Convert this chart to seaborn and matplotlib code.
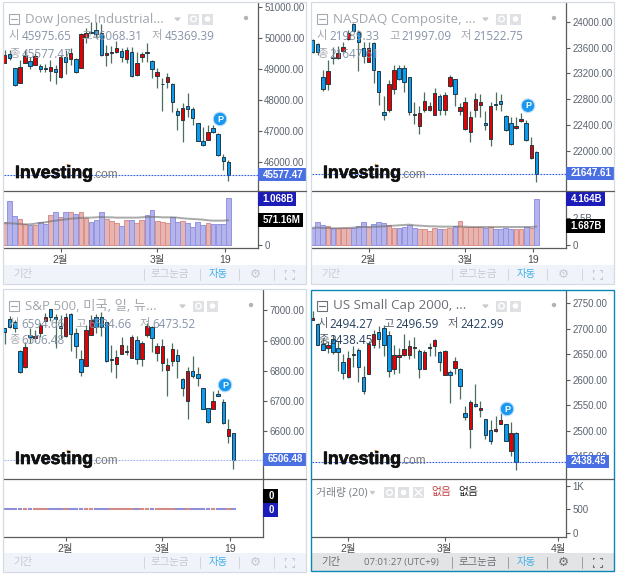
import numpy as np
import pandas as pd
import matplotlib
matplotlib.use("Agg")
import matplotlib.pyplot as plt
import matplotlib.patheffects as pe
from matplotlib.patches import Rectangle, Circle
import seaborn as sns

# ==========================
# DATA
# ==========================
dow_open = [49210,49490,49020,48550,49210,49270,49140,49110,49040,48930,49000,48750,49380,49320,49320,49050,50050,50190,50260,50160,49460,49530,49560,49600,49320,49540,48820,49380,49540,49270,48790,48500,48590,48530,47640,47360,47790,47700,47240,46680,46710,47100,46910,46140,45975.65]
dow_high = [49620,49620,49030,49290,49620,49400,49510,49160,49160,49290,49130,49460,49620,49670,49350,50160,50320,50540,50510,50460,49780,49750,49920,49670,49730,49730,49560,49560,49830,49290,49020,48700,48860,48540,47730,47890,48240,47780,47240,47130,47180,47190,46920,46250,46068.31]
dow_low = [49190,49290,48460,48540,49190,48990,49130,48890,48920,48610,48500,48700,48840,49130,48860,49020,49860,50160,50000,49420,49110,49210,49510,49240,49190,48750,48780,49220,49240,48700,48400,47640,48380,47600,47030,46650,47460,47190,46660,46520,46700,46920,46190,45730,45369.39]
dow_close = [49460,49360,48480,49080,49420,49100,49430,49010,49010,49080,48920,49400,49240,49510,48890,50120,50160,50170,50140,49460,49520,49550,49670,49390,49620,48790,49190,49490,49510,48990,48920,48510,48740,47940,47500,47750,47700,47430,46680,46540,46960,46970,46220,46030,45577.47]
dow_volume = [540,1010,676,600,479,464,464,524,486,684,768,638,752,752,707,768,631,540,578,768,600,555,509,441,578,578,509,578,692,806,555,540,517,638,540,555,509,418,540,464,517,486,486,486,1068]
dow_vol_ma = [502,502,494,486,479,479,494,509,524,547,562,578,593,608,616,623,631,631,638,646,638,638,631,631,631,631,631,638,646,646,646,638,638,638,631,616,608,600,593,585,570,562,562,562,571]

nq_open = [23710,23650,23140,23030,23450,23440,23540,23730,23970,23840,23590,23380,23670,23230,22610,22630,22960,23280,23290,23140,22570,22390,22630,22640,22560,22850,22640,23010,23110,22620,22340,22300,22630,22710,22430,22190,22730,22780,22540,22440,22350,22460,22440,21890,21989.33]
nq_high = [23730,23670,23250,23400,23610,23620,23690,23870,23980,23870,23690,23690,23680,23240,22850,23100,23330,23330,23330,23150,22760,22700,22910,22760,22970,22880,22910,23180,23120,22740,22830,22620,22890,22880,22620,22760,22910,22880,22560,22530,22530,22580,22480,22210,21997.09]
nq_low = [23510,23480,22930,22940,23350,23430,23520,23720,23850,23240,23360,23370,23050,22710,22480,22610,22880,23100,22920,22560,22410,22270,22610,22620,22550,22560,22560,22990,22700,22550,22330,22140,22530,22530,22330,22080,22630,22620,22310,22100,22340,22450,22150,21880,21522.75]
nq_close = [23530,23530,22960,23240,23440,23510,23610,23830,23860,23690,23470,23600,23260,22910,22550,23040,23250,23110,23070,22610,22560,22580,22770,22690,22890,22630,22870,23150,22880,22680,22750,22530,22810,22750,22400,22700,22710,22720,22320,22110,22390,22490,22170,22090,21647.61]
nq_volume = [1.59,2.07,1.83,1.71,1.59,1.53,1.53,1.53,1.53,1.71,2.07,1.62,1.89,2.07,1.98,1.83,1.59,1.53,1.65,1.83,1.53,1.44,1.44,1.26,1.56,1.47,1.44,1.53,1.71,2.19,1.62,1.68,1.68,1.68,1.59,1.62,1.47,1.47,1.53,1.47,1.47,1.47,1.62,1.53,4.164]
nq_vol_ma = [1.59,1.59,1.56,1.56,1.53,1.53,1.56,1.56,1.59,1.62,1.65,1.65,1.68,1.68,1.71,1.74,1.77,1.80,1.83,1.86,1.80,1.77,1.74,1.71,1.71,1.68,1.68,1.68,1.68,1.68,1.68,1.65,1.65,1.65,1.65,1.65,1.65,1.65,1.65,1.65,1.65,1.65,1.65,1.65,1.687]

sp_open = [6940,6970,6963,6867,6812,6917,6909,6924,6966,7004,6979,6948,6916,6987,6926,6838,6817,6920,6977,6979,6960,6836,6821,6857,6863,6844,6903,6838,6917,6945,6858,6827,6802,6832,6852,6772,6700,6798,6791,6742,6676,6675,6722,6698,6585,6594.66]
sp_high = [6943,6981,6968,6868,6896,6940,6935,6959,6990,7005,6988,6985,6990,6990,6940,6869,6951,6985,6988,6996,6963,6885,6869,6911,6885,6918,6916,6900,6957,6948,6891,6904,6841,6891,6871,6777,6814,6849,6814,6744,6676,6733,6737,6706,6640,6594.66]
sp_low = [6888,6942,6927,6792,6808,6891,6896,6913,6960,6966,6874,6907,6913,6866,6844,6783,6816,6917,6924,6915,6828,6797,6777,6856,6852,6841,6823,6816,6913,6863,6832,6799,6715,6816,6775,6717,6640,6777,6750,6673,6626,6673,6715,6624,6562,6473.52]
sp_close = [6927,6944,6943,6797,6878,6913,6916,6950,6979,6979,6970,6940,6979,6921,6883,6797,6934,6967,6944,6946,6834,6838,6845,6884,6866,6911,6838,6891,6947,6910,6881,6883,6818,6872,6832,6742,6798,6782,6776,6675,6632,6700,6717,6626,6607,6506.48]
sp_volume = [0] * 46
sp_vol_ma = [0] * 46

rut_open = [2718,2710,2671,2662,2681,2662,2635,2605,2648,2658,2606,2612,2668,2693,2701,2687,2622,2645,2649,2649,2662,2656,2622,2662,2667,2654,2610,2615,2623,2621,2535,2504,2552,2541,2522,2502,2500,2513,2512,2460,2494.27]
rut_high = [2736,2712,2682,2676,2688,2676,2650,2656,2666,2663,2626,2676,2697,2705,2708,2695,2669,2663,2689,2679,2684,2660,2658,2673,2681,2656,2658,2619,2645,2623,2549,2560,2591,2559,2523,2521,2528,2536,2513,2516,2496.59]
rut_low = [2717,2668,2658,2653,2650,2617,2601,2604,2625,2595,2572,2611,2663,2663,2647,2606,2611,2613,2647,2640,2643,2603,2621,2647,2647,2617,2609,2554,2611,2563,2520,2466,2546,2526,2484,2474,2498,2512,2480,2450,2422.99]
rut_close = [2721,2669,2659,2668,2655,2655,2614,2642,2650,2625,2578,2671,2690,2681,2669,2617,2648,2648,2660,2666,2665,2622,2654,2665,2678,2634,2656,2610,2636,2587,2526,2556,2548,2544,2491,2480,2504,2521,2480,2496,2438.45]

dow_x_ticks = [11, 30, 43.4]
nq_x_ticks = [11, 30, 43.4]
sp_x_ticks = [12, 31, 44.3]
rut_x_ticks = [7, 26, 48.3]
x_labels_19 = ["2월", "3월", "19"]
x_labels_apr = ["2월", "3월", "4월"]

RED = "#e60000"
BLUE = "#0a9bf2"
WICK = "#4b6f5c"
W, H = 619, 574

# ==========================
# THEME
# ==========================
sns.set_theme(style="white")
plt.rcParams["font.family"] = ["Liberation Sans", "Noto Sans CJK KR", "DejaVu Sans"]
UI_FONT = ["Open Sans", "Noto Sans CJK KR", "DejaVu Sans"]

fig = plt.figure(figsize=(W / 100, H / 100), dpi=100, facecolor="white")


def px_axes(x0, y0, x1, y1):
    return fig.add_axes([x0 / W, 1 - y1 / H, (x1 - x0) / W, (y1 - y0) / H])


def style_spines(ax):
    for s in ["left", "top"]:
        ax.spines[s].set_visible(False)
    for s in ["right", "bottom"]:
        ax.spines[s].set_color("#5a5a5a")
        ax.spines[s].set_linewidth(0.9)
    ax.yaxis.tick_right()
    ax.patch.set_alpha(0)


def draw_candles(ax, opens, highs, lows, closes):
    df = pd.DataFrame({"o": opens, "h": highs, "l": lows, "c": closes})
    df["i"] = np.arange(len(df))
    ax.vlines(df["i"], df["l"], df["h"], color=WICK, lw=0.9, zorder=2)
    up = df["c"] >= df["o"]
    bottoms = df[["o", "c"]].min(axis=1)
    heights = (df["c"] - df["o"]).abs()
    ax.bar(df["i"], heights, bottom=bottoms, width=0.68,
           color=[RED if u else BLUE for u in up],
           edgecolor="#223a44", linewidth=0.7, zorder=3)
    return up


def draw_volume(ax, volume, ma, up, ma_alpha, bar_lw):
    df = pd.DataFrame({"i": np.arange(len(volume)), "v": volume, "ma": ma, "up": up.values})
    for flag, fill, edge in [(True, "#e8b4b0", "#dc8e8a"), (False, "#b4b4ea", "#9292e2")]:
        sub = df[df["up"] == flag]
        sns.barplot(data=sub, x="i", y="v", native_scale=True, color=fill, saturation=1,
                    edgecolor=edge, linewidth=bar_lw, width=0.95, errorbar=None, ax=ax, zorder=2)
    sns.lineplot(data=df, x="i", y="ma", color="#707070", alpha=ma_alpha, lw=1.4,
                 estimator=None, errorbar=None, ax=ax, zorder=3)
    ax.set_xlabel("")
    ax.set_ylabel("")


panels = [
    dict(ox=3, oy=2, x0=4, spine=258, right=306, top=3, div=191, bot=248.5, tb0=265, tb1=284, bx1=306,
         o=dow_open, h=dow_high, l=dow_low, c=dow_close, v=dow_volume, ma=dow_vol_ma, ma_alpha=0.6, bar_lw=0.7,
         ylim=(45050, 51140), yt=[46000, 47000, 48000, 49000, 50000, 51000],
         vlim=(-73, 1238), vt=[0], vtl=["0"], xt=dow_x_ticks, xtl=x_labels_19),
    dict(ox=311, oy=2, x0=312, spine=566.3, right=614, top=3, div=191, bot=248.5, tb0=265, tb1=284, bx1=614,
         o=nq_open, h=nq_high, l=nq_low, c=nq_close, v=nq_volume, ma=nq_vol_ma, ma_alpha=0.6, bar_lw=0.7,
         ylim=(21381, 24289), yt=[22000, 22400, 22800, 23200, 23600, 24000],
         vlim=(-0.288, 4.887), vt=[0, 2.5], vtl=["0", "2.5B"], xt=nq_x_ticks, xtl=x_labels_19),
    dict(ox=3, oy=289, x0=4, spine=263.3, right=306, top=289.5, div=479, bot=537, tb0=553, tb1=572, bx1=306,
         o=sp_open, h=sp_high, l=sp_low, c=sp_close, v=sp_volume, ma=sp_vol_ma, ma_alpha=0.08, bar_lw=1.5,
         ylim=(6442, 7069), yt=[6600, 6700, 6800, 6900, 7000],
         vlim=(-27.7, 30.3), vt=[], vtl=[], xt=sp_x_ticks, xtl=x_labels_19),
    dict(ox=311, oy=290, x0=312, spine=566.3, right=614, top=291, div=479, bot=537, tb0=553, tb1=571, bx1=614,
         o=rut_open, h=rut_high, l=rut_low, c=rut_close, v=None, ma=None, ma_alpha=0, bar_lw=0,
         ylim=(2404.8, 2774.4), yt=[2450, 2500, 2550, 2600, 2650, 2700, 2750],
         vlim=(-91, 1143), vt=[0, 500, 1000], vtl=["0", "500", "1K"], xt=rut_x_ticks, xtl=x_labels_apr),
]

# ==========================
# CHARTS
# ==========================
for p in panels:
    step = 5.083
    first = p["x0"] + 0.67
    xlim = ((p["x0"] - first) / step, (p["spine"] - first) / step)

    ax = px_axes(p["x0"], p["top"], p["spine"], p["div"])
    up = draw_candles(ax, p["o"], p["h"], p["l"], p["c"])
    line_color = "#9db4f0" if p["ox"] == 3 and p["oy"] == 289 else "#2f62e0"
    ax.axhline(p["c"][-1], color=line_color, lw=0.8, ls=(0, (1.6, 1.1)), zorder=4)
    ax.set_xlim(xlim)
    ax.set_ylim(p["ylim"])
    ax.set_yticks(p["yt"])
    ax.set_yticklabels([f"{v:.2f}" for v in p["yt"]])
    ax.set_xticks([])
    style_spines(ax)
    ax.spines["bottom"].set_visible(False)
    ax.tick_params(axis="y", right=True, length=3, width=0.8, color="#5a5a5a", pad=1.5,
                   labelsize=7, labelcolor="#5c6470")

    vax = px_axes(p["x0"], p["div"], p["spine"], p["bot"])
    if p["v"] is not None:
        draw_volume(vax, p["v"], p["ma"], up, p["ma_alpha"], p["bar_lw"])
    vax.set_xlim(xlim)
    vax.set_ylim(p["vlim"])
    vax.set_yticks(p["vt"])
    vax.set_yticklabels(p["vtl"])
    vax.set_xticks(p["xt"])
    vax.set_xticklabels(p["xtl"])
    style_spines(vax)
    vax.tick_params(axis="y", right=True, length=3, width=0.8, color="#5a5a5a", pad=1.5,
                    labelsize=7, labelcolor="#5c6470")
    vax.tick_params(axis="x", bottom=True, length=3, width=0.8, color="#5a5a5a", pad=2,
                    labelsize=7.5, labelcolor="#4a4a4a")

# ==========================
# OVERLAY (legends, logo, toolbars)
# ==========================
ov = fig.add_axes([0, 0, 1, 1], zorder=20)
ov.set_xlim(0, W)
ov.set_ylim(H, 0)
ov.axis("off")


def ui_text(x, y, s, color, size=8.2, **kw):
    kw.setdefault("ha", "left")
    ov.text(x, y, s, color=color, fontsize=size, family=UI_FONT, va="center", **kw)


def value_box(x0, x1, y0, y1, s, bg):
    ov.add_patch(Rectangle((x0, y0), x1 - x0, y1 - y0, fc=bg, ec="none"))
    ov.text((x0 + x1) / 2 + 1, (y0 + y1) / 2, s, color="white", fontsize=7, fontweight="bold",
            ha="center", va="center")


def legend_block(ox, oy, title, ohlc, line_y, cols, icon_x, dim=True):
    tc = "#a3a7ae" if dim else "#6b6f76"
    vc = "#8794a8" if dim else "#27405f"
    lc = "#a3a7ae" if dim else "#5a5f68"
    ty, y1, y2 = [oy + v for v in line_y]
    icon_x = ox + icon_x
    # collapse box, title, dropdown
    ov.add_patch(Rectangle((ox + 9, ty - 5), 10, 10, fc="none", ec=tc, lw=0.8))
    ov.plot([ox + 11, ox + 17], [ty, ty], color=tc, lw=0.8)
    ui_text(ox + 25, ty, title, tc, size=9.6)
    ov.fill([icon_x - 19, icon_x - 14, icon_x - 16.5], [ty - 1, ty - 1, ty + 1.5], color="#c8ccd2")
    for dx in (0, 14):
        ov.add_patch(Rectangle((icon_x - 6 + dx, ty - 5.5), 11, 11, fc="#dfe1e4", ec="none"))
    ov.add_patch(Circle((icon_x - 0.5, ty), 2.8, fc="none", ec="white", lw=1))
    ov.add_patch(Circle((icon_x + 13.5, ty), 2.8, fc="white", ec="none"))
    ov.add_patch(Circle((icon_x + 52, ty - 1), 2.2, fc="#b0b3b8", ec="none"))
    for (lab, lx, vx), val in zip(cols, ohlc[:3]):
        ui_text(ox + lx, y1, lab, lc, size=8.2)
        ui_text(ox + vx, y1, val, vc, size=8.4)
    ui_text(ox + cols[0][1], y2, "종", lc, size=8.2)
    ui_text(ox + cols[0][2], y2, ohlc[3], vc, size=8.4)


def logo(x, y):
    t = ov.text(x, y + 1.5, "Investing", color="#111111", fontsize=12.8, fontweight="bold", ha="left", va="center")
    t.set_path_effects([pe.withStroke(linewidth=0.5, foreground="#111111")])
    ov.text(x + 78, y + 3, ".com", color="#777777", fontsize=8.5, ha="left", va="center")
    ov.add_patch(Circle((x + 52.5, y - 7), 1.1, fc="#f59a23", ec="none"))


def pin(x, y):
    ov.add_patch(Circle((x, y), 6.8, fc="#1a98f0", ec="#bfe0fa", lw=0.8))
    ov.text(x, y, "P", color="white", fontsize=6.5, fontweight="bold", ha="center", va="center")


def toolbar(p, active=False, clock=None):
    ox = p["ox"]
    y0, y1 = p["tb0"], p["tb1"]
    bg = "#e3e4e6" if active else "#f0f3fa"
    fg = "#6c6f75" if active else "#c6c9d0"
    sep = "#9a9da3" if active else "#d3d6dd"
    ym = (y0 + y1) / 2
    ov.add_patch(Rectangle((ox + 1, y0), p["bx1"] - ox - 1, y1 - y0, fc=bg, ec="none"))
    ui_text(ox + 20, ym, "기간", fg, size=7.5, ha="center")
    if clock:
        ui_text(ox + 90, ym, clock, fg, size=6.8, ha="center")
    ui_text(ox + 167, ym, "로그눈금", fg, size=7.5, ha="center")
    ui_text(ox + 215, ym, "자동", "#3fb0e8", size=7.5, ha="center")
    for zx in (141, 197, 236, 271):
        ov.plot([ox + zx, ox + zx], [ym - 5.5, ym + 5.5], color=sep, lw=0.7)
    ov.text(ox + 252, ym, "\u2699", color=fg, fontsize=9, family="DejaVu Sans", ha="center", va="center")
    ex, s, g = ox + 286, 4.5, 1.8
    for sx in (-1, 1):
        for sy in (-1, 1):
            cx, cy = ex + sx * s, ym + sy * s
            ov.plot([cx - sx * g, cx, cx], [cy, cy, cy - sy * g], color=fg, lw=0.8)


cols_top = [("시", 9, 21.5), ("고", 81, 93), ("저", 152, 165)]
legend_block(0, 0, "Dow Jones Industrial...", ["45975.65", "46068.31", "45369.39", "45577.47"],
             (19, 36, 54), cols_top, 194)
legend_block(308, 0, "NASDAQ Composite, ...", ["21989.33", "21997.09", "21522.75", "21647.61"],
             (19, 36, 54), [("시", 9, 21.5), ("고", 81, 93), ("저", 152.5, 165)], 194)
legend_block(0, 290, "S&P 500, 미국, 일, 뉴...", ["6594.66", "6594.66", "6473.52", "6506.48"],
             (16, 34, 51), [("시", 9, 21.5), ("고", 75, 88), ("저", 140, 152.5)], 199)
legend_block(308, 290, "US Small Cap 2000, ...", ["2494.27", "2496.59", "2422.99", "2438.45"],
             (16, 34, 51), [("시", 10, 21.5), ("고", 75, 87), ("저", 140, 152.5)], 194, dim=False)

logo(15, 172)
logo(323, 172)
logo(15, 458)
logo(323, 458)

pin(220, 119)
pin(528, 105.7)
pin(225, 385)
pin(507, 409)

# value boxes on the axes
value_box(258, 306, 168, 181, "45577.47", "#4a6fe3")
value_box(258, 296, 192, 205.7, "1.068B", "#1c1cb8")
value_box(258, 303, 213, 227, "571.16M", "#000000")
value_box(566.3, 614, 166.5, 180, "21647.61", "#4a6fe3")
value_box(566.3, 604.5, 192, 205.7, "4.164B", "#1c1cb8")
value_box(566.3, 604.5, 219, 233, "1.687B", "#000000")
value_box(263.3, 306, 452.7, 465.7, "6506.48", "#4a6fe3")
value_box(263.3, 278, 489, 503, "0", "#000000")
value_box(263.3, 278, 503, 516.7, "0", "#1c1cb8")
value_box(566.3, 609, 455, 468, "2438.45", "#4a6fe3")

# volume study legend in the fourth chart
ui_text(316.5, 492.7, "거래량 (20)", "#7a7e85", size=7.8)
ov.fill([370.5, 374.5, 372.5], [491.5, 491.5, 494], color="#c8ccd2")
for bx in (384, 398, 413):
    ov.add_patch(Rectangle((bx, 487), 11, 11, fc="#dfe1e4", ec="none"))
ov.add_patch(Circle((389.5, 492.5), 2.8, fc="none", ec="white", lw=1))
ov.add_patch(Circle((403.5, 492.5), 2.8, fc="white", ec="none"))
ov.plot([415, 422], [489, 496], color="white", lw=1)
ov.plot([415, 422], [496, 489], color="white", lw=1)
ui_text(441, 492.7, "없음", "#c0454a", size=7.8, ha="center")
ui_text(468.5, 492.7, "없음", "#222222", size=7.8, ha="center")

# dividers across the axis column and panel frames
for p in panels:
    is_active = p["ox"] == 311 and p["oy"] == 290
    ov.plot([p["x0"], p["bx1"]], [p["div"], p["div"]], color="#5a5a5a", lw=0.9)
    toolbar(p, active=is_active, clock="07:01:27 (UTC+9)" if is_active else None)
    ov.add_patch(Rectangle((p["ox"], p["oy"]), p["bx1"] - p["ox"], p["tb1"] - p["oy"], fc="none",
                           ec="#0b86b8" if is_active else "#d6dae3", lw=1.0 if is_active else 0.9))

fig.savefig("out.png", dpi=100)
plt.close(fig)
